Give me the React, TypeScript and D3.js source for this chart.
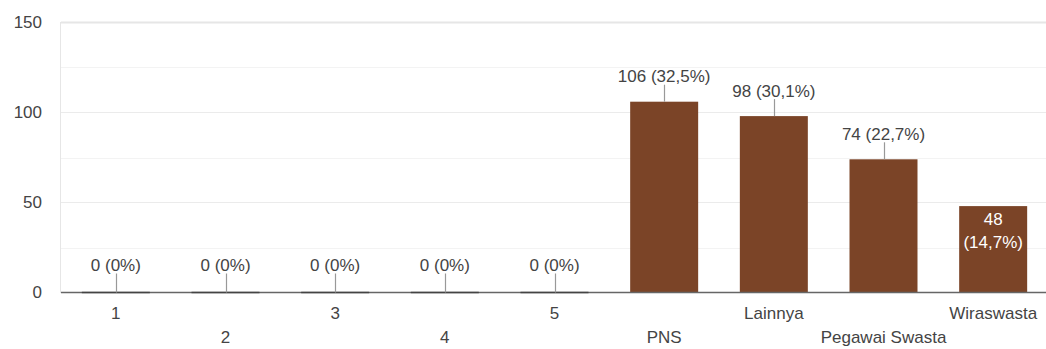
import React from "react";
import * as d3 from "d3";

const categories = ["1", "2", "3", "4", "5", "PNS", "Lainnya", "Pegawai Swasta", "Wiraswasta"];
const values = [0, 0, 0, 0, 0, 106, 98, 74, 48];
const yTicks = [0, 50, 100, 150];
const yMinorTicks = [25, 75, 125];
const insideLabels = ["Wiraswasta"];

const W = 1046;
const H = 349;
const FONT = "Arial, 'Liberation Sans', sans-serif";
const BAR = "#7b4427";
const TEXT = "#444";

export default function App() {
  const x = d3
    .scaleBand<string>()
    .domain(categories)
    .range([61, 1048])
    .paddingInner(0.38)
    .paddingOuter(0.19);
  const y = d3.scaleLinear().domain([0, 150]).range([292.5, 22.5]);
  const total = d3.sum(values);
  const pct = (v: number) => {
    const p = total ? (v / total) * 100 : 0;
    if (p === 0) return "0%";
    return p.toFixed(1).replace(".", ",") + "%";
  };
  const bw = x.bandwidth();

  return (
    <svg
      width={W}
      height={H}
      style={{ position: "absolute", left: 0, top: 0, background: "#fff" }}
      fontFamily={FONT}
    >
      {/* minor grid */}
      {yMinorTicks.map((t) => (
        <line key={"m" + t} x1={61} x2={W} y1={Math.round(y(t)) + 0.5} y2={Math.round(y(t)) + 0.5} stroke="#f3f3f3" />
      ))}
      {/* major grid */}
      {yTicks.map((t) => (
        <line key={"g" + t} x1={61} x2={W} y1={y(t)} y2={y(t)} stroke={t === 150 ? "#e6e6e6" : "#ebebeb"} strokeWidth={t === 150 ? 2 : 1} />
      ))}
      <line x1={60.5} x2={60.5} y1={22} y2={293} stroke="#e6e6e6" />
      {/* y tick labels */}
      {yTicks.map((t) => (
        <text key={"yt" + t} x={42} y={y(t)} dy="0.35em" textAnchor="end" fontSize={17} fill={TEXT}>
          {t}
        </text>
      ))}
      {/* bars */}
      {categories.map((c, i) => {
        const v = values[i];
        const x0 = x(c)!;
        const top = y(v);
        return (
          <rect key={"b" + c} x={x0} y={top} width={bw} height={Math.max(0, y(0) - top)} fill={BAR} />
        );
      })}
      {/* baseline */}
      <line x1={61} x2={W} y1={292.5} y2={292.5} stroke="#666" strokeWidth={1.5} />
      {categories.map((c, i) =>
        values[i] === 0 ? (
          <line key={"z" + c} x1={x(c)!} x2={x(c)! + bw} y1={292.5} y2={292.5} stroke="#444" strokeWidth={1.5} />
        ) : null
      )}
      {/* value labels */}
      {categories.map((c, i) => {
        const v = values[i];
        const cx = x(c)! + bw / 2;
        const top = y(v);
        if (insideLabels.includes(c)) {
          return (
            <g key={"l" + c}>
              <text x={cx} y={top + 13} dy="0.35em" textAnchor="middle" fontSize={17} fill="#fff">
                {v}
              </text>
              <text x={cx} y={top + 35.5} dy="0.35em" textAnchor="middle" fontSize={17} fill="#fff">
                ({pct(v)})
              </text>
            </g>
          );
        }
        const off = v === 0 ? 27 : 25.5;
        const lineOff = v === 0 ? 19 : 17;
        return (
          <g key={"l" + c}>
            <line x1={Math.round(cx) + 0.5} x2={Math.round(cx) + 0.5} y1={top - lineOff} y2={top} stroke="#999" strokeWidth={1.2} />
            <text x={cx} y={top - off} dy="0.35em" textAnchor="middle" fontSize={17} fill={TEXT}>
              {v} ({pct(v)})
            </text>
          </g>
        );
      })}
      {/* x labels */}
      {categories.map((c, i) => (
        <text
          key={"xl" + c}
          x={x(c)! + bw / 2}
          y={i % 2 === 0 ? 313 : 337}
          dy="0.35em"
          textAnchor="middle"
          fontSize={17}
          fill={TEXT}
        >
          {c}
        </text>
      ))}
    </svg>
  );
}
